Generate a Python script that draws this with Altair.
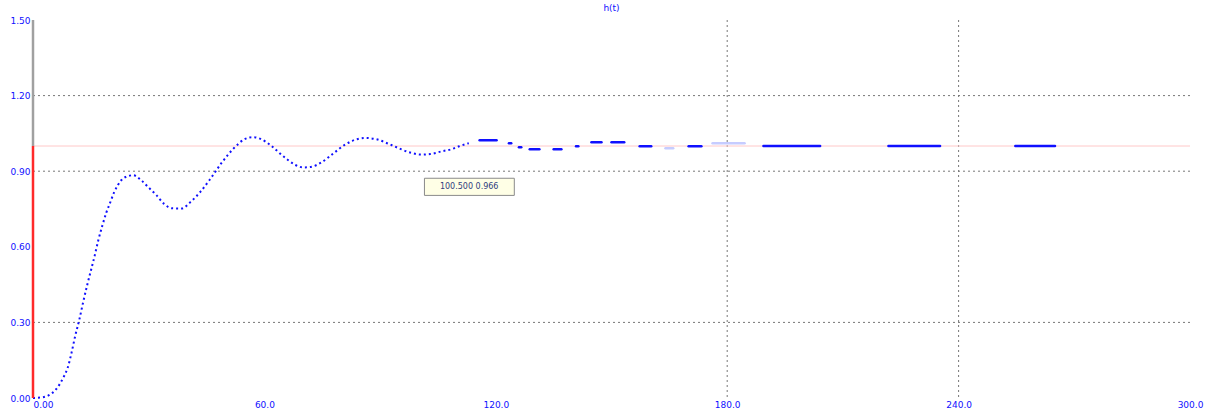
import altair as alt
import pandas as pd

# Transient response h(t): densely sampled part, drawn as a dotted line
t_main = [0, 2, 4, 6, 7, 8, 9, 10, 11, 12, 13, 14, 15, 16, 17, 18, 19, 20, 21, 22,
          23, 24, 26, 28, 30, 32, 34, 36, 38.5, 41, 43.5, 46, 49, 52, 55, 57, 59,
          62, 65, 68, 70, 72, 75, 78, 81, 84, 86, 89, 92, 95, 98, 100.5, 103, 106,
          108.5, 110.5, 113]
h_main = [0.0, 0.002, 0.01, 0.035, 0.057, 0.085, 0.12, 0.18, 0.25, 0.31, 0.38, 0.445,
          0.505, 0.565, 0.63, 0.685, 0.735, 0.775, 0.815, 0.845, 0.866, 0.877, 0.884,
          0.865, 0.835, 0.805, 0.77, 0.753, 0.752, 0.78, 0.82, 0.87, 0.935, 0.99, 1.028,
          1.035, 1.028, 0.998, 0.958, 0.925, 0.915, 0.917, 0.937, 0.972, 1.006, 1.027,
          1.032, 1.027, 1.01, 0.99, 0.973, 0.966, 0.968, 0.979, 0.987, 0.999, 1.011]

# Sparse tail: isolated dashes (start, end, level), bright and faint ones
seg_t0 = [115.8, 123.4, 126.0, 128.8, 135.0, 140.8, 144.8, 150.0, 157.3, 170.0,
          189.4, 221.8, 254.7]
seg_t1 = [120.2, 124.0, 126.6, 131.3, 137.0, 141.4, 147.4, 153.3, 160.3, 173.3,
          204.1, 235.2, 265.0]
seg_h = [1.023, 1.011, 0.995, 0.987, 0.987, 0.999, 1.015, 1.015, 0.999, 0.999,
         1.0, 1.0, 1.0]
faint_t0 = [164.0, 176.2]
faint_t1 = [166.0, 184.5]
faint_h = [0.991, 1.011]

x_ticks = [0, 60, 120, 180, 240, 300]
y_ticks = [0.0, 0.3, 0.6, 0.9, 1.2, 1.5]
grid_h = [0.3, 0.9, 1.2]
grid_t = [180, 240]
setpoint = 1.0
hint_t, hint_h = 100.5, 0.966

BLUE = "#1010ff"
FONT = "DejaVu Sans"

main_df = pd.DataFrame({"t": t_main, "h": h_main})
seg_df = pd.DataFrame({"t0": seg_t0, "t1": seg_t1, "h": seg_h})
faint_df = pd.DataFrame({"t0": faint_t0, "t1": faint_t1, "h": faint_h})

x_scale = alt.Scale(domain=[0, 300], nice=False, zero=False)
y_scale = alt.Scale(domain=[0, 1.5], nice=False)

x_axis = alt.Axis(values=x_ticks, grid=False, domain=False, ticks=False,
                  labelColor=BLUE, labelFontSize=9, labelFont=FONT, labelPadding=2,
                  labelFlush=False,
                  labelExpr="datum.value == 0 ? '0.00' : format(datum.value, '.1f')",
                  labelAlign=alt.expr("datum.value == 0 ? 'left' : 'center'"),
                  title=None)
y_axis = alt.Axis(values=y_ticks, grid=False, domain=False, ticks=False,
                  labelColor=BLUE, labelFontSize=9, labelFont=FONT, labelPadding=3,
                  labelFlush=False, format=".2f", title=None)

X = alt.X("t:Q", scale=x_scale, axis=x_axis)
Y = alt.Y("h:Q", scale=y_scale, axis=y_axis)

# dotted grid lines
hgrid = alt.Chart(pd.DataFrame({"h": grid_h})).mark_rule(
    color="#777777", strokeDash=[2, 3], strokeWidth=1
).encode(y=alt.Y("h:Q", scale=y_scale, axis=y_axis))
vgrid = alt.Chart(pd.DataFrame({"t": grid_t})).mark_rule(
    color="#777777", strokeDash=[2, 3], strokeWidth=1
).encode(x=alt.X("t:Q", scale=x_scale, axis=x_axis))

# set-point level
sp = alt.Chart(pd.DataFrame({"h": [setpoint]})).mark_rule(
    color="#ffc8c8", strokeWidth=1
).encode(y=alt.Y("h:Q", scale=y_scale))

# left edge: red up to the set-point, grey above it
edge_low = alt.Chart(pd.DataFrame({"t": [0], "h0": [0.0], "h1": [setpoint]})).mark_rule(
    strokeWidth=2.5, color="#ff2a2a"
).encode(x=alt.X("t:Q", scale=x_scale), y=alt.Y("h0:Q", scale=y_scale), y2="h1:Q")
edge_high = alt.Chart(pd.DataFrame({"t": [0], "h0": [setpoint], "h1": [1.5]})).mark_rule(
    strokeWidth=2.5, color="#a0a0a0"
).encode(x=alt.X("t:Q", scale=x_scale), y=alt.Y("h0:Q", scale=y_scale), y2="h1:Q")

curve = alt.Chart(main_df).mark_line(
    color=BLUE, strokeWidth=2, strokeDash=[2, 3], interpolate="monotone"
).encode(x=X, y=Y)

tail = alt.Chart(seg_df).mark_rule(strokeWidth=2.5, strokeCap="round", color=BLUE).encode(
    x=alt.X("t0:Q", scale=x_scale), x2="t1:Q", y=alt.Y("h:Q", scale=y_scale)
)
tail_faint = alt.Chart(faint_df).mark_rule(strokeWidth=2.5, strokeCap="round",
                                           color="#c6ccff").encode(
    x=alt.X("t0:Q", scale=x_scale), x2="t1:Q", y=alt.Y("h:Q", scale=y_scale)
)

# hint box at a point of the curve
hint_df = pd.DataFrame({"t0": [hint_t + 1.0], "t1": [hint_t + 24.3],
                        "h0": [hint_h - 0.162], "h1": [hint_h - 0.094],
                        "tm": [hint_t + 12.6], "hm": [hint_h - 0.128],
                        "label": [f"{hint_t:.3f}  {hint_h:.3f}"]})
hint_box = alt.Chart(hint_df).mark_rect(
    fill="#ffffe6", stroke="#8a8a8a", strokeWidth=1
).encode(x=alt.X("t0:Q", scale=x_scale), x2="t1:Q",
         y=alt.Y("h0:Q", scale=y_scale), y2="h1:Q")
hint_text = alt.Chart(hint_df).mark_text(
    fontSize=8, font=FONT, color="#304080"
).encode(x=alt.X("tm:Q", scale=x_scale), y=alt.Y("hm:Q", scale=y_scale),
         text="label:N")

chart = alt.layer(
    hgrid, vgrid, sp, curve, tail, tail_faint, edge_low, edge_high, hint_box, hint_text
).properties(
    width=1157,
    height=378,
    background="white",
    title=alt.TitleParams("h(t)", fontSize=9, font=FONT, color=BLUE,
                          anchor="middle", offset=3, fontWeight="normal"),
    autosize=alt.AutoSizeParams(type="none"),
    padding={"left": 33, "top": 20, "right": 23, "bottom": 16},
).configure_view(stroke=None)

chart.save("out.html", embed_options={"renderer": "svg", "actions": False})
